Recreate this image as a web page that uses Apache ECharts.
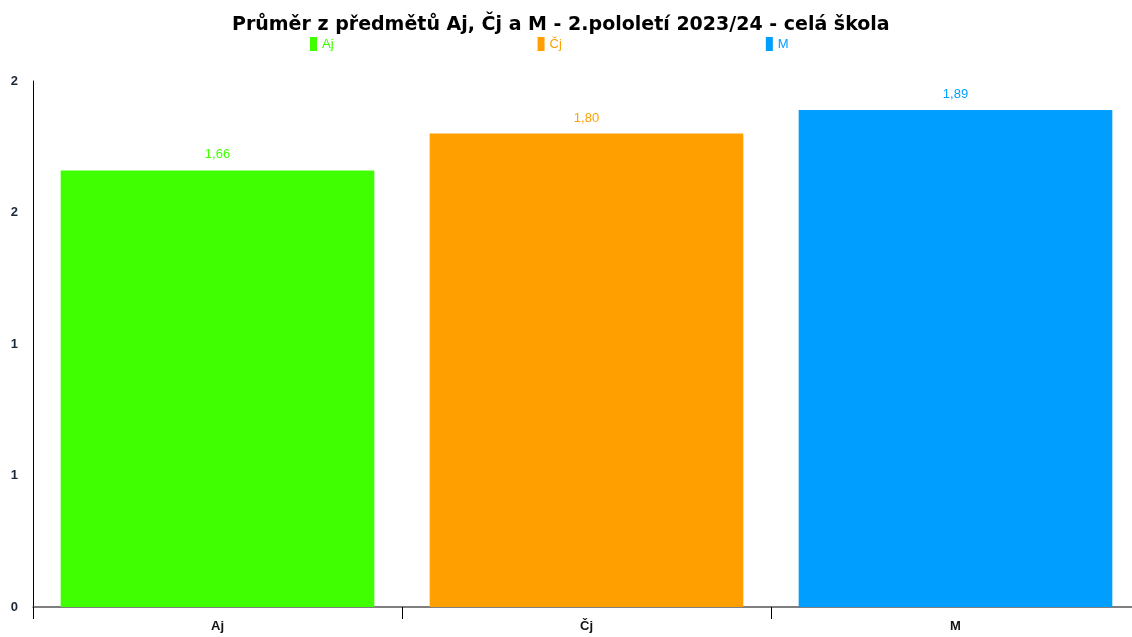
<!DOCTYPE html>
<html>
<head>
<meta charset="utf-8">
<script src="https://cdn.jsdelivr.net/npm/echarts@6/dist/echarts.min.js"></script>
<style>html,body{margin:0;padding:0;background:#fff}#c{width:1132px;height:637px}</style>
</head>
<body>
<div id="c"></div>
<script>
var titleText = 'Průměr z předmětů Aj, Čj a M - 2.pololetí 2023/24 - celá škola';
var categories = ['Aj', 'Čj', 'M'];
var seriesNames = ['Aj', 'Čj', 'M'];
var seriesValues = [1.66, 1.80, 1.89];
var seriesColors = ['#40ff00', '#ff9f00', '#009fff'];
var yTicks = [0, 0.5, 1, 1.5, 2];

var chart = echarts.init(document.getElementById('c'));
var series = seriesNames.map(function (n, i) {
  var d = categories.map(function (c, j) { return j === i ? seriesValues[i] : null; });
  return {
    name: n, type: 'bar', stack: 'all', data: d, barWidth: '85%',
    itemStyle: { color: seriesColors[i] },
    label: {
      show: true, position: 'top', distance: 9, color: seriesColors[i],
      fontFamily: 'Liberation Sans', fontSize: 13,
      formatter: function (p) { return p.value == null ? '' : p.value.toFixed(2).replace('.', ','); }
    }
  };
});
chart.setOption({
  animation: false,
  title: {
    text: titleText, left: 227, top: 11,
    textStyle: { fontFamily: 'DejaVu Sans', fontSize: 19, fontWeight: 'bold', color: '#000' }
  },
  legend: {
    top: 37, left: 310, padding: 0, itemGap: 204, itemWidth: 7, itemHeight: 14, icon: 'rect',
    textStyle: { fontFamily: 'Liberation Sans', fontSize: 13, color: 'inherit' },
    data: seriesNames.map(function (n, i) { return { name: n, textStyle: { color: seriesColors[i] } }; })
  },
  grid: { left: 33, width: 1107, top: 81, bottom: 30, containLabel: false, outerBoundsMode: 'none' },
  xAxis: {
    type: 'category', data: categories,
    axisLine: { lineStyle: { color: '#555', width: 1.5 } },
    axisTick: { show: true, length: 12, lineStyle: { color: '#000' } },
    axisLabel: { fontFamily: 'Liberation Sans', fontSize: 13, fontWeight: 'bold', color: '#111', margin: 13 }
  },
  yAxis: {
    type: 'value', min: yTicks[0], max: yTicks[yTicks.length - 1], interval: yTicks[1] - yTicks[0],
    axisLine: { show: true, lineStyle: { color: '#000' } },
    axisTick: { show: false },
    splitLine: { show: false },
    axisLabel: {
      fontFamily: 'Liberation Sans', fontSize: 13, fontWeight: 'bold', color: '#1b2838', margin: 15,
      formatter: function (v) { return String(Math.round(v)); }
    }
  },
  series: series
});
</script>
</body>
</html>
